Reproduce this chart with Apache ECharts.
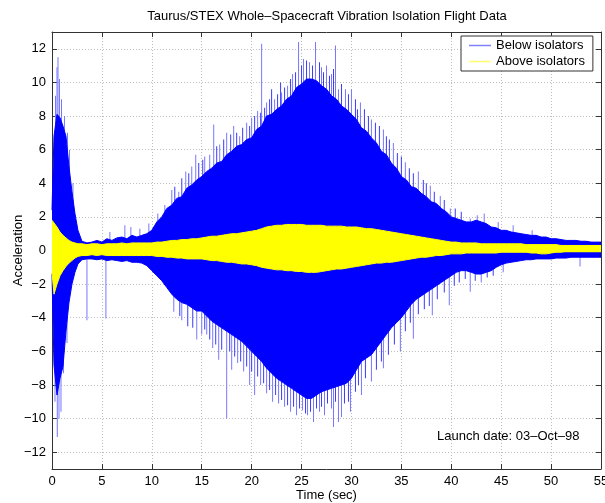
<!DOCTYPE html>
<html>
<head>
<meta charset="utf-8">
<script src="https://cdn.jsdelivr.net/npm/echarts@6/dist/echarts.min.js"></script>
<style>
  html, body { margin: 0; padding: 0; background: #fff; }
  #chart { width: 605px; height: 503px; }
</style>
</head>
<body>
<div id="chart"></div>
<script>
// envelope of the two acceleration traces (time in sec)
const time = [0, 0.2, 0.5, 0.8, 1.1, 1.4, 1.7, 2, 2.3, 2.6,
  3, 3.5, 4, 4.5, 5, 5.5, 6, 6.5, 7, 7.5, 8, 8.5, 9, 9.5,
  10, 10.5, 11, 11.5, 12, 12.5, 13, 13.5, 14, 14.5,
  15, 15.5, 16, 16.5, 17, 17.5, 18, 18.5, 19, 19.5,
  20, 20.5, 21, 21.5, 22, 22.5, 23, 23.5, 24, 24.5,
  25, 25.5, 26, 26.5, 27, 27.5, 28, 28.5, 29, 29.5,
  30, 30.5, 31, 31.5, 32, 32.5, 33, 33.5, 34, 34.5,
  35, 35.5, 36, 36.5, 37, 37.5, 38, 38.5, 39, 39.5,
  40, 40.5, 41, 41.5, 42, 42.5, 43, 43.5, 44, 44.5,
  45, 45.5, 46, 46.5, 47, 47.5, 48, 48.5, 49, 49.5,
  50, 50.5, 51, 51.5, 52, 52.5, 53, 53.5, 54, 54.5, 55];

const belowUpper = [2.4, 6.8, 8.1, 7.9, 7.4, 6.8, 5.0, 3.5, 2.2, 1.2,
  0.55, 0.45, 0.5, 0.6, 0.5, 0.7, 0.6, 0.75, 0.8, 0.7, 0.9, 0.8, 0.9, 1.0,
  1.2, 1.7, 2.0, 2.5, 2.7, 3.1, 3.2, 3.7, 3.9, 4.2,
  4.4, 4.7, 4.9, 5.2, 5.3, 5.7, 5.9, 6.2, 6.3, 6.6,
  6.7, 7.2, 7.4, 8.0, 8.1, 8.4, 8.6, 9.0, 9.2, 9.7,
  9.9, 10.2, 10.2, 10.1, 9.8, 9.6, 9.2, 9.0, 8.6, 8.4,
  8.1, 7.8, 7.3, 7.1, 6.7, 6.4, 5.9, 5.7, 5.2, 4.9,
  4.4, 4.2, 3.8, 3.7, 3.4, 3.2, 2.9, 2.8, 2.5, 2.3,
  2.0, 1.9, 1.8, 1.7, 1.7, 1.8, 1.7, 1.6, 1.4, 1.35,
  1.2, 1.2, 1.1, 1.05, 1.0, 0.95, 0.9, 0.9, 0.8, 0.8,
  0.7, 0.7, 0.65, 0.6, 0.6, 0.6, 0.55, 0.55, 0.5, 0.5, 0.5];

const belowLower = [-1.4, -6.8, -8.6, -7.6, -6.9, -4.8, -3.1, -2.0, -1.3, -0.8,
  -0.55, -0.5, -0.5, -0.55, -0.5, -0.6, -0.55, -0.6, -0.65, -0.6, -0.7, -0.7, -0.75, -0.9,
  -1.2, -1.5, -1.8, -2.2, -2.6, -2.9, -3.1, -3.2, -3.4, -3.6,
  -3.6, -3.9, -4.2, -4.4, -4.6, -4.8, -5.0, -5.2, -5.4, -5.7,
  -6.0, -6.3, -6.6, -7.0, -7.3, -7.6, -7.8, -8.0, -8.2, -8.4,
  -8.6, -8.8, -8.8, -8.6, -8.4, -8.3, -8.2, -8.1, -8.0, -7.9,
  -7.6, -7.1, -6.6, -6.4, -6.2, -5.8, -5.4, -5.0, -4.6, -4.3,
  -4.0, -3.6, -3.2, -2.9, -2.7, -2.5, -2.3, -2.1, -1.9, -1.7,
  -1.5, -1.3, -1.2, -1.2, -1.3, -1.4, -1.4, -1.3, -1.2, -1.0,
  -0.85, -0.75, -0.7, -0.65, -0.6, -0.55, -0.55, -0.5, -0.5, -0.5,
  -0.5, -0.45, -0.45, -0.45, -0.4, -0.4, -0.4, -0.4, -0.4, -0.4, -0.4];

const aboveUpper = [1.8, 1.7, 1.4, 1.1, 0.9, 0.75, 0.6, 0.5, 0.45, 0.4,
  0.4, 0.35, 0.4, 0.4, 0.35, 0.4, 0.4, 0.4, 0.45, 0.4, 0.45, 0.45, 0.45, 0.45,
  0.45, 0.5, 0.5, 0.55, 0.6, 0.6, 0.65, 0.65, 0.7, 0.7,
  0.75, 0.8, 0.85, 0.85, 0.9, 0.95, 1.0, 1.0, 1.05, 1.1,
  1.15, 1.2, 1.3, 1.4, 1.45, 1.5, 1.5, 1.55, 1.55, 1.55,
  1.55, 1.5, 1.5, 1.5, 1.5, 1.45, 1.45, 1.45, 1.45, 1.4,
  1.4, 1.4, 1.35, 1.3, 1.3, 1.25, 1.2, 1.15, 1.1, 1.05,
  1.0, 0.95, 0.9, 0.85, 0.8, 0.75, 0.7, 0.65, 0.6, 0.55,
  0.5, 0.5, 0.45, 0.45, 0.45, 0.45, 0.4, 0.4, 0.4, 0.4,
  0.4, 0.4, 0.4, 0.4, 0.4, 0.35, 0.35, 0.35, 0.35, 0.35,
  0.35, 0.35, 0.3, 0.3, 0.3, 0.3, 0.3, 0.3, 0.3, 0.3, 0.3];

const aboveLower = [-1.3, -2.6, -2.0, -1.5, -1.2, -0.95, -0.75, -0.6, -0.45, -0.35,
  -0.3, -0.3, -0.25, -0.3, -0.25, -0.3, -0.3, -0.3, -0.3, -0.3, -0.3, -0.3, -0.3, -0.3,
  -0.3, -0.35, -0.35, -0.4, -0.4, -0.45, -0.45, -0.5, -0.5, -0.5,
  -0.5, -0.55, -0.6, -0.6, -0.65, -0.7, -0.7, -0.75, -0.8, -0.8,
  -0.85, -0.9, -1.0, -1.05, -1.1, -1.15, -1.15, -1.2, -1.2, -1.25,
  -1.25, -1.3, -1.3, -1.3, -1.25, -1.2, -1.15, -1.1, -1.1, -1.05,
  -1.0, -0.95, -0.9, -0.85, -0.8, -0.75, -0.75, -0.7, -0.7, -0.65,
  -0.6, -0.55, -0.5, -0.45, -0.4, -0.4, -0.35, -0.3, -0.3, -0.25,
  -0.2, -0.2, -0.2, -0.15, -0.15, -0.15, -0.15, -0.15, -0.15, -0.15,
  -0.1, -0.1, -0.1, -0.1, -0.1, -0.1, -0.15, -0.15, -0.2, -0.2,
  -0.15, -0.1, -0.1, -0.05, -0.05, -0.05, -0.05, -0.05, -0.05, -0.05, -0.05];

// isolated peaks of the "below isolators" trace (thin, light)
const spikeTime = [0.35, 0.5, 0.6, 0.75, 0.95, 1.25, 1.55, 1.75, 2.1,
  5.8, 7.3, 7.9, 8.8, 9.7, 10.6, 11.3, 12.0, 12.7, 13.4, 14.0, 14.4,
  15.3, 15.8, 16.2, 16.8, 17.5, 18.2, 18.8, 19.5, 20.0, 20.6, 21.0, 21.5,
  22.3, 23.0, 23.6, 24.1, 24.7, 25.2, 25.8, 26.4, 27.0, 27.5, 28.0, 28.4,
  28.7, 29.4, 30.0, 30.9, 32.0, 33.2, 34.2, 35.4, 36.7, 37.9, 38.9, 39.9,
  41.9, 42.6, 43.3, 44.7, 46.2, 48.1,
  0.3, 0.53, 0.7, 0.9, 1.15, 1.5, 3.5, 5.4, 12.2, 13.0, 14.5, 15.0, 15.5,
  16.1, 16.7, 17.5, 18.0, 18.6, 19.2, 19.8, 20.3, 20.9, 21.5, 22.1, 22.7,
  23.3, 23.9, 24.5, 25.1, 25.6, 26.2, 26.8, 27.3, 28.0, 28.2, 28.7, 29.0,
  29.9, 31.0, 32.0, 33.2, 34.9, 36.2, 38.1, 39.8, 41.9, 43.0, 45.2, 52.9];
const spikeValue = [9.2, 10.9, 11.5, 10.2, 9.0, 8.0, 7.0, 6.0, 4.0,
  1.1, 1.5, 1.4, 1.3, 1.6, 2.2, 2.7, 3.6, 3.5, 4.7, 5.0, 5.7,
  5.6, 5.7, 7.5, 6.3, 7.0, 7.4, 6.8, 7.6, 7.9, 8.3, 12.3, 8.8,
  9.0, 9.4, 9.8, 10.5, 12.4, 11.4, 11.2, 12.4, 10.9, 11.0, 10.5, 12.2,
  9.6, 9.6, 9.6, 8.8, 7.8, 7.2, 6.4, 5.25, 4.7, 3.85, 3.25, 2.5,
  1.9, 2.1, 2.2, 1.7, 1.5, 1.2,
  -9.0, -11.1, -10.0, -9.6, -7.3, -5.5, -4.15, -4.05, -3.65, -4.15, -5.3, -5.0, -5.0,
  -5.8, -6.5, -10.0, -7.1, -6.7, -7.2, -8.0, -8.6, -8.0, -8.5, -9.0, -9.1,
  -9.3, -9.6, -9.8, -9.5, -9.8, -10.2, -9.6, -9.8, -9.4, -10.5, -10.2, -9.9,
  -9.6, -8.6, -7.8, -7.0, -6.0, -5.25, -3.85, -3.25, -2.45, -1.9, -1.3, -0.95];

// shorter dense peaks that make the fuzzy edge of the blue trace
const fringeTime = [12.3, 13.0, 13.7, 14.7, 15.1, 16.5, 17.2, 17.9, 18.5, 19.1,
  19.8, 20.3, 20.9, 21.3, 21.8, 22.0, 22.6, 22.9, 23.3, 23.9, 24.4, 25.0,
  25.5, 26.1, 26.8, 27.2, 27.8, 28.2, 29.0, 29.7, 30.4, 30.6, 31.3, 31.7,
  32.4, 32.8, 33.5, 33.8, 34.6, 35.0, 35.8, 36.2, 37.2, 37.5, 38.3, 39.3,
  40.4, 41.0,
  12.8, 13.6, 14.1, 15.3, 15.8, 16.4, 17.0, 17.8, 18.3, 18.9, 19.5, 20.0,
  20.6, 21.2, 21.8, 22.4, 23.0, 23.6, 24.2, 24.8, 25.4, 25.9, 26.5, 27.0,
  27.6, 28.4, 29.3, 29.7, 30.4, 30.7, 31.4, 32.5, 33.0, 33.7, 34.3, 35.4,
  35.9, 36.7, 37.3, 37.8, 38.6, 39.3, 40.3, 40.8, 41.4, 42.4, 43.6, 44.2];
const fringeValue = [3.8, 4.3, 4.6, 5.2, 5.4, 6.2, 6.6, 6.9, 7.0, 7.3,
  7.4, 8.0, 8.2, 8.5, 9.0, 9.6, 9.3, 10.0, 9.7, 10.2, 10.6, 11.0,
  11.3, 11.0, 11.2, 10.6, 10.4, 10.8, 9.9, 9.3, 9.0, 8.4, 8.4, 8.0,
  7.6, 7.4, 6.8, 6.6, 5.8, 5.6, 4.9, 4.6, 4.2, 4.0, 3.5, 3.0,
  2.5, 2.3,
  -3.9, -4.5, -4.6, -4.7, -5.3, -5.6, -5.9, -6.0, -6.3, -6.6, -6.9, -7.2,
  -7.5, -7.9, -8.3, -8.6, -8.9, -9.2, -9.3, -9.4, -9.7, -9.6, -9.4, -9.3,
  -9.1, -9.0, -9.1, -9.0, -8.4, -8.0, -7.6, -7.1, -6.6, -6.2, -5.6, -4.8,
  -4.3, -3.8, -3.5, -3.3, -2.9, -2.5, -2.1, -1.9, -1.7, -1.8, -1.6, -1.5];

const yTicks = [-12, -10, -8, -6, -4, -2, 0, 2, 4, 6, 8, 10, 12];

const BLUE = "#0000ff";
const YELLOW = "#ffff00";
const font = 'Helvetica, Arial, "Liberation Sans", sans-serif';
const FS = 13;

const chart = echarts.init(document.getElementById("chart"), null, { renderer: "canvas" });

const pairs = (vals) => time.map((t, i) => [t, vals[i]]);
const minusSign = (v) => String(v).replace("-", "\u2212");
const frameLine = { show: true, onZero: false, lineStyle: { color: "#333", width: 1 } };
const tick = { show: true, inside: true, length: 5, lineStyle: { color: "#333" } };
const grid = { show: true, lineStyle: { color: "#bdbdbd", width: 1, type: [1, 2] } };

// origin slightly past zero so the upper and lower halves overlap (no seam)
const band = (name, vals, color, z, origin) => ({
  name,
  type: "line",
  data: pairs(vals),
  symbol: "none",
  z,
  silent: true,
  lineStyle: { color, width: 1 },
  itemStyle: { color },
  areaStyle: { color, opacity: 1, origin },
});

const peaks = (ts, vs, color) => ({
  name: "Below isolators",
  type: "bar",
  data: ts.map((t, i) => [t, vs[i]]),
  barWidth: 1,
  barGap: "-100%",
  z: 1,
  silent: true,
  itemStyle: { color },
});

const option = {
  animation: false,
  backgroundColor: "#fff",
  grid: { left: 52, right: 4, top: 32, bottom: 34, outerBoundsMode: "none", containLabel: false },
  graphic: [
    {
      type: "text", x: 327, y: 16,
      style: {
        text: "Taurus/STEX Whole\u2013Spacecraft Vibration Isolation Flight Data",
        font: FS + "px " + font, fill: "#000", textAlign: "center", textVerticalAlign: "middle",
      },
    },
    {
      type: "text", x: 437, y: 436, z: 10,
      style: {
        text: "Launch date: 03\u2013Oct\u201398",
        font: FS + "px " + font, fill: "#000", textAlign: "left", textVerticalAlign: "middle",
      },
    },
  ],
  legend: {
    orient: "vertical",
    left: 461, top: 36,
    padding: [2, 8, 2, 8],
    itemGap: 1,
    itemWidth: 22, itemHeight: 1.5,
    icon: "rect",
    backgroundColor: "#fff",
    borderColor: "#333", borderWidth: 1, borderRadius: 0,
    textStyle: { color: "#000", fontSize: FS, fontFamily: font, lineHeight: 15 },
    data: [
      { name: "Below isolators", itemStyle: { color: "#8080ff" } },
      { name: "Above isolators", itemStyle: { color: "#ffff70" } },
    ],
  },
  xAxis: [
    {
      type: "value", min: 0, max: 55, interval: 5, position: "bottom",
      axisLine: frameLine, axisTick: tick, splitLine: grid,
      axisLabel: { color: "#000", fontSize: FS, fontFamily: font, margin: 6 },
      name: "Time (sec)", nameLocation: "middle", nameGap: 20, nameMoveOverlap: false,
      nameTextStyle: { color: "#000", fontSize: FS, fontFamily: font },
    },
    {
      type: "value", min: 0, max: 55, interval: 5, position: "top",
      axisLine: frameLine, axisTick: tick, splitLine: { show: false },
      axisLabel: { show: false },
    },
  ],
  yAxis: [
    {
      type: "value", min: -13, max: 13, position: "left",
      axisLine: frameLine,
      axisTick: Object.assign({ customValues: yTicks }, tick),
      splitLine: grid,
      axisLabel: {
        customValues: yTicks, formatter: minusSign,
        color: "#000", fontSize: FS, fontFamily: font, margin: 6,
      },
      name: "Acceleration", nameLocation: "middle", nameGap: 27, nameRotate: 90,
      nameMoveOverlap: false,
      nameTextStyle: { color: "#000", fontSize: FS, fontFamily: font },
    },
    {
      type: "value", min: -13, max: 13, position: "right",
      axisLine: frameLine,
      axisTick: Object.assign({ customValues: yTicks }, tick),
      splitLine: { show: false },
      axisLabel: { show: false },
    },
  ],
  series: [
    peaks(spikeTime, spikeValue, "#7777ff"),
    peaks(fringeTime, fringeValue, "#3a3aff"),
    band("Below isolators", belowUpper, BLUE, 2, -0.1),
    band("Below isolators", belowLower, BLUE, 2, 0.1),
    band("Above isolators", aboveUpper, YELLOW, 3, -0.1),
    band("Above isolators", aboveLower, YELLOW, 3, 0.1),
  ],
};

chart.setOption(option);
window.addEventListener("resize", () => chart.resize());
</script>
</body>
</html>
